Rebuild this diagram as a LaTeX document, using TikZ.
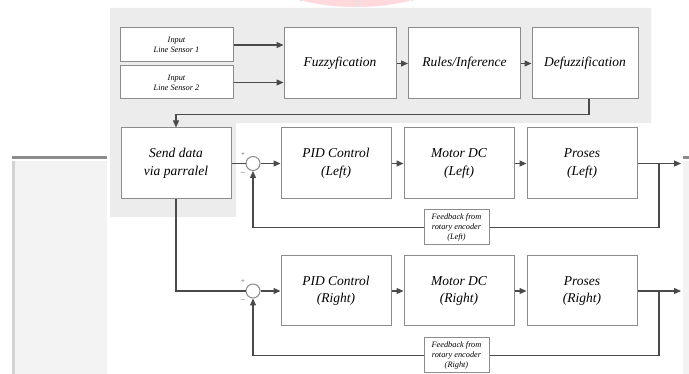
\documentclass[tikz,border=0pt]{standalone}
\usepackage{fontspec}
\setmainfont{Liberation Serif}
\usetikzlibrary{arrows.meta,calc}
\definecolor{panel}{HTML}{ECECEC}
\definecolor{sidepanel}{HTML}{F3F3F3}
\definecolor{wire}{HTML}{4A4A4A}
\definecolor{frame}{HTML}{8C8C8C}
\definecolor{blush}{HTML}{FFD9DC}
\tikzset{
  box/.style={draw=frame, line width=1pt, fill=white, inner sep=0pt, align=center,
    font=\itshape\fontsize{13.5}{17.5}\selectfont},
  smallbox/.style={box, font=\itshape\fontsize{8.3}{10.3}\selectfont},
  sumjunc/.style={circle, draw=frame, line width=1pt, fill=white, minimum size=14pt, inner sep=0pt},
  wireline/.style={draw=wire, line width=1.2pt},
  arr/.style={wireline, -{Triangle[length=7pt,width=6pt]}},
  sign/.style={inner sep=0pt, font=\fontsize{7}{7}\selectfont, text=wire}
}
\begin{document}
\begin{tikzpicture}[x=1pt,y=-1pt]
\useasboundingbox (0,0) rectangle (689,374);
\clip (0,0) rectangle (689,374);
\fill[white] (0,0) rectangle (689,374);

% pink shape peeking in at the top edge
\fill[blush] (356,-25) ellipse [x radius=90, y radius=32];
\draw[gray, line width=1pt] (300,0) arc[start angle=218, end angle=232, x radius=90, y radius=32];
\draw[gray, line width=1pt] (413,0) arc[start angle=-38, end angle=-52, x radius=90, y radius=32];
\fill[blush!80!gray!60] (355,0) rectangle (360,7);

% side panels at the left and right edges
\fill[sidepanel] (12,161) rectangle (107,374);
\fill[gray!35] (12,161) rectangle (15,374);
\draw[gray!90, line width=3pt] (12,158) -- (107,158);
\fill[sidepanel] (683,161) rectangle (689,374);
\draw[gray!90, line width=3pt] (683,158) -- (689,158);

% grey backdrop of the fuzzy stage
\fill[panel] (110,8) -- (651,8) -- (651,123) -- (236,123) -- (236,217) -- (110,217) -- cycle;

% fuzzy stage
\node[smallbox, minimum width=113pt, minimum height=34pt] (s1) at (176.5,45) {Input\\Line Sensor 1};
\node[smallbox, minimum width=113pt, minimum height=33pt] (s2) at (176.5,82.5) {Input\\Line Sensor 2};
\node[box, minimum width=112pt, minimum height=71pt] (fz) at (340,63.5) {Fuzzyfication};
\node[box, minimum width=112pt, minimum height=71pt] (ri) at (464.5,63.5) {Rules/Inference};
\node[box, minimum width=106pt, minimum height=71pt] (df) at (585,63.5) {Defuzzification};

\draw[arr] (s1.east) -- (s1.east -| fz.west);
\draw[arr] (s2.east) -- (s2.east -| fz.west);
\draw[arr] (fz.east) -- (ri.west);
\draw[arr] (ri.east) -- (df.west);

% parallel output
\node[box, minimum width=110pt, minimum height=71pt] (sd) at (176,163.5) {Send data\\via parralel};
\draw[arr] ([xshift=4pt]df.south) -- ++(0,15) -| (sd.north);

% left wheel loop
\node[sumjunc] (cL) at (253,163.5) {};
\node[sign] at (243,154.5) {+};
\node[sign] at (243,172.5) {$-$};
\node[box, minimum width=110pt, minimum height=71pt] (pidL) at (336,163.5) {PID Control\\(Left)};
\node[box, minimum width=110pt, minimum height=71pt] (motL) at (459,163.5) {Motor DC\\(Left)};
\node[box, minimum width=110pt, minimum height=71pt] (prL) at (582,163.5) {Proses\\(Left)};
\node[smallbox, minimum width=65pt, minimum height=35pt] (fbL) at (456.5,227.5) {Feedback from\\rotary encoder\\(Left)};
\coordinate (oL) at (681,163.5);
\coordinate (bL) at (659,163.5);

\draw[wireline] (sd.east) -- (cL.west);
\draw[arr] (cL.east) -- (pidL.west);
\draw[arr] (pidL.east) -- (motL.west);
\draw[arr] (motL.east) -- (prL.west);
\draw[arr] (prL.east) -- (oL);
\draw[wireline] (bL) |- (fbL.east);
\draw[arr] (fbL.west) -| (cL.south);

% right wheel loop
\node[sumjunc] (cR) at (253,291) {};
\node[sign] at (243,282) {+};
\node[sign] at (243,300) {$-$};
\node[box, minimum width=110pt, minimum height=70pt] (pidR) at (336,291) {PID Control\\(Right)};
\node[box, minimum width=110pt, minimum height=70pt] (motR) at (459,291) {Motor DC\\(Right)};
\node[box, minimum width=110pt, minimum height=70pt] (prR) at (582,291) {Proses\\(Right)};
\node[smallbox, minimum width=65pt, minimum height=35pt] (fbR) at (456.5,355.5) {Feedback from\\rotary encoder\\(Right)};
\coordinate (oR) at (681,291);
\coordinate (bR) at (659,291);

\draw[wireline] (sd.south) |- (cR.west);
\draw[arr] (cR.east) -- (pidR.west);
\draw[arr] (pidR.east) -- (motR.west);
\draw[arr] (motR.east) -- (prR.west);
\draw[arr] (prR.east) -- (oR);
\draw[wireline] (bR) |- (fbR.east);
\draw[arr] (fbR.west) -| (cR.south);
\end{tikzpicture}
\end{document}
